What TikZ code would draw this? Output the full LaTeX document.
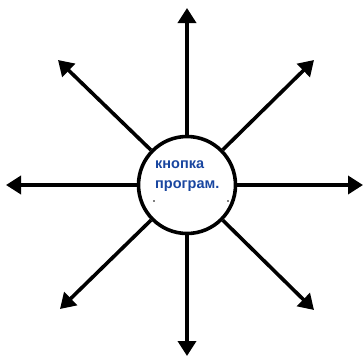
\documentclass[tikz,border=0pt]{standalone}
\usepackage{fontspec}
\setmainfont{Liberation Sans}
\usetikzlibrary{arrows.meta}
\definecolor{txtblue}{RGB}{25,70,160}
\tikzset{
  ray/.style={line width=3.6pt,-{Triangle[length=15pt,width=18pt]}},
  hub/.style={circle,draw,line width=3.6pt,minimum size=97pt,inner sep=0pt,fill=white},
  lbl/.style={text=txtblue,font=\bfseries\fontsize{14.5pt}{20pt}\selectfont,align=left,inner sep=0pt,anchor=north west}
}
\begin{document}
\begin{tikzpicture}[x=1pt,y=-1pt]
\useasboundingbox (0,0) rectangle (363,359);
\node[hub] (c) at (187,185) {};
\coordinate (n) at (187,8);
\coordinate (s) at (187,356);
\coordinate (w) at (6,185);
\coordinate (e) at (363,185);
\coordinate (nw) at (58,60);
\coordinate (ne) at (314,60);
\coordinate (sw) at (60,309);
\coordinate (se) at (314,310);
\foreach \t in {n,s,w,e,nw,ne,sw,se}
  \draw[ray] (c) -- (\t);
\node[lbl] (t) at (155,160) {кнопка\\програм.};
\fill (154,201) circle (0.8pt);
\fill (228,201) circle (0.8pt);
\end{tikzpicture}
\end{document}
